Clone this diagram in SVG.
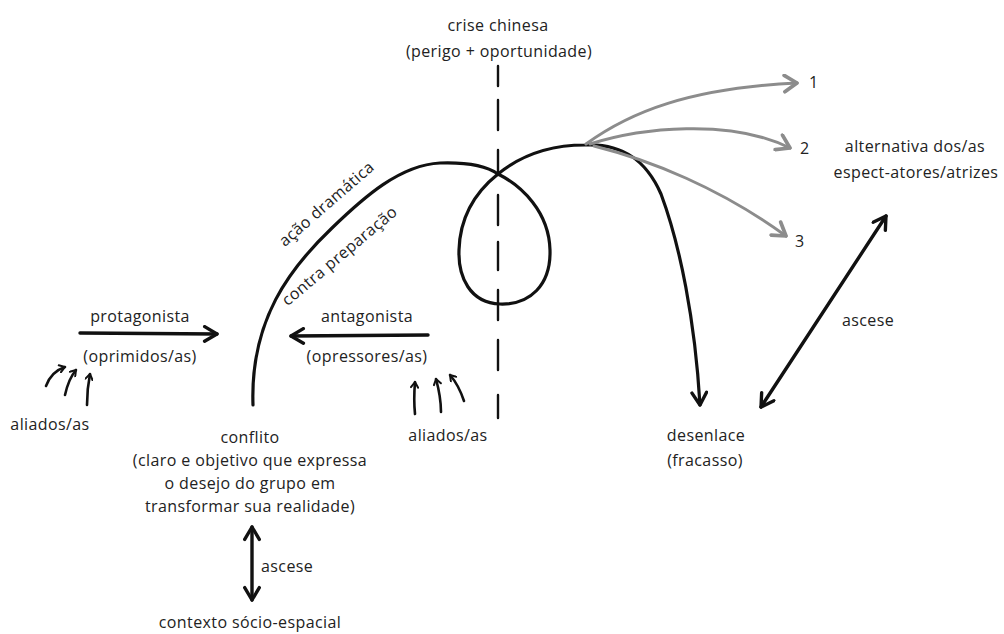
<svg xmlns="http://www.w3.org/2000/svg" width="1004" height="634" viewBox="0 0 1004 634">
<defs>
<style>
text{font-family:"Open Sans","Noto Sans",sans-serif;font-size:16px;fill:#222;letter-spacing:0.4px}
.c{text-anchor:middle}
.blk{fill:none;stroke:#111;stroke-linecap:round;stroke-linejoin:round}
.gry{fill:none;stroke:#8c8c8c;stroke-width:3;stroke-linecap:round;stroke-linejoin:round}
</style>
<marker id="ahL" viewBox="0 0 16 16" refX="14" refY="8" markerWidth="18" markerHeight="18" markerUnits="userSpaceOnUse" orient="auto-start-reverse">
<path d="M3,1.5 L14,8 L3,14.5" fill="none" stroke="#111" stroke-width="3" stroke-linecap="round" stroke-linejoin="round"/>
</marker>
<marker id="ahG" viewBox="0 0 16 16" refX="14" refY="8" markerWidth="20" markerHeight="20" markerUnits="userSpaceOnUse" orient="auto">
<path d="M4,1.5 L14,8 L4,14.5" fill="none" stroke="#8c8c8c" stroke-width="3" stroke-linecap="round" stroke-linejoin="round"/>
</marker>
<marker id="ahS" viewBox="0 0 10 10" refX="8" refY="5" markerWidth="9" markerHeight="9" markerUnits="userSpaceOnUse" orient="auto">
<path d="M2,1 L8,5 L2,9" fill="none" stroke="#111" stroke-width="2.2" stroke-linecap="round" stroke-linejoin="round"/>
</marker>
</defs>
<rect width="1004" height="634" fill="#fff"/>

<g id="connectors">
<path id="crisis-line" d="M498,66 V86 M498,100 V130 M498,150 V175 M498,195 V225 M498,242 V270 M498,290 V320 M498,340 V370 M498,395 V418" class="blk" stroke-width="2.4" stroke-linecap="butt"/>
<path id="main-curve" d="M253,405 C250,320 290,268 332,228 C364,197 400,165 440,163 C470,162 488,167 498,174 C522,186 549,212 550,250 C551,285 530,305 500,304 C470,303 458,277 459,250 C460,215 478,190 498,174 C520,156 550,145 585,145 C622,143 646,160 661,194 C680,245 695,320 700,405" class="blk" stroke-width="3.2" marker-end="url(#ahL)"/>
<path d="M586,144 C630,112 690,88 797,83" class="gry" marker-end="url(#ahG)"/>
<path d="M590,144 C640,128 730,118 790,148" class="gry" marker-end="url(#ahG)"/>
<path d="M594,146 C650,160 720,188 786,236" class="gry" marker-end="url(#ahG)"/>
<path d="M80,333 L217,334" class="blk" stroke-width="3.4" marker-end="url(#ahL)"/>
<path d="M428,335 L291,336" class="blk" stroke-width="3.4" marker-end="url(#ahL)"/>
<path d="M46,386 C50,375 56,370 65,367" class="blk" stroke-width="2.6" marker-end="url(#ahS)"/>
<path d="M65,395 C67,386 70,377 76,370" class="blk" stroke-width="2.6" marker-end="url(#ahS)"/>
<path d="M87,405 C87,395 88,384 90,374" class="blk" stroke-width="2.6" marker-end="url(#ahS)"/>
<path d="M415,414 C414,404 414,394 415,382" class="blk" stroke-width="2.6" marker-end="url(#ahS)"/>
<path d="M441,412 C441,400 439,390 436,379" class="blk" stroke-width="2.6" marker-end="url(#ahS)"/>
<path d="M464,401 C461,392 457,383 450,375" class="blk" stroke-width="2.6" marker-end="url(#ahS)"/>
<path d="M252,527 L252,600" class="blk" stroke-width="3.4" marker-start="url(#ahL)" marker-end="url(#ahL)"/>
<path d="M761,407 L886,216" class="blk" stroke-width="3.4" marker-start="url(#ahL)" marker-end="url(#ahL)"/>
</g>

<g id="crise">
<text class="c" x="498" y="31">crise chinesa</text>
<text class="c" x="499" y="57">(perigo + oportunidade)</text>
</g>
<g id="acao">
<text class="c" transform="translate(330,208) rotate(-41)">ação dramática</text>
<text class="c" transform="translate(343,260) rotate(-40)">contra preparação</text>
</g>
<g id="alt-labels">
<text x="809" y="88">1</text>
<text x="800" y="154">2</text>
<text x="795" y="247">3</text>
</g>
<g id="alternativa">
<text class="c" x="915" y="152">alternativa dos/as</text>
<text class="c" x="916" y="178">espect-atores/atrizes</text>
</g>
<g id="protagonista">
<text class="c" x="140" y="322">protagonista</text>
<text class="c" x="140" y="362">(oprimidos/as)</text>
</g>
<g id="antagonista">
<text class="c" x="367" y="322">antagonista</text>
<text class="c" x="367" y="362">(opressores/as)</text>
</g>
<g id="aliados-left">
<text class="c" x="50" y="430">aliados/as</text>
</g>
<g id="aliados-right">
<text class="c" x="448" y="441">aliados/as</text>
</g>
<g id="conflito">
<text class="c" x="250" y="443">conflito</text>
<text class="c" x="250" y="466">(claro e objetivo que expressa</text>
<text class="c" x="250" y="489">o desejo do grupo em</text>
<text class="c" x="250" y="512">transformar sua realidade)</text>
</g>
<g id="ascese-bottom">
<text x="261" y="572">ascese</text>
</g>
<g id="contexto">
<text class="c" x="250" y="628">contexto sócio-espacial</text>
</g>
<g id="ascese-right">
<text class="c" x="868" y="326">ascese</text>
</g>
<g id="desenlace">
<text class="c" x="706" y="441">desenlace</text>
<text class="c" x="705" y="466">(fracasso)</text>
</g>
</svg>
